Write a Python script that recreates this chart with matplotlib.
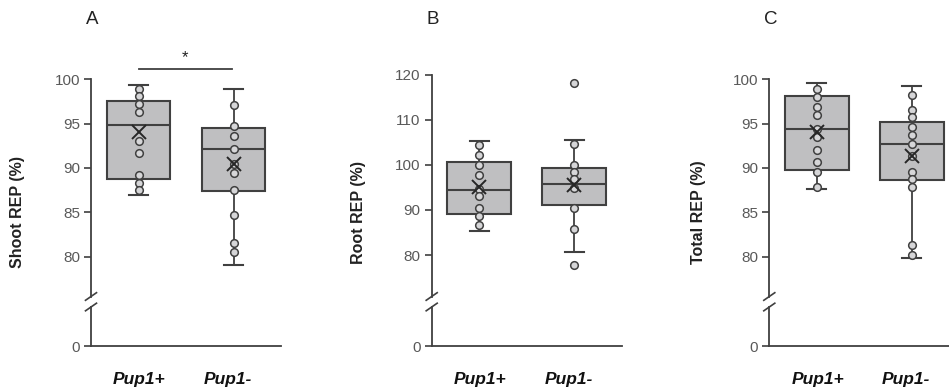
import matplotlib
matplotlib.use("Agg")
import matplotlib.pyplot as plt
from matplotlib.lines import Line2D

plt.rcParams["font.family"] = ["Liberation Sans", "DejaVu Sans"]

W, H = 949, 389

# ---- data ----
groups = ["Pup1+", "Pup1-"]

# box stats: [whisker low, Q1, median, Q3, whisker high, mean]
shoot_box = [[86.9, 88.7, 94.85, 97.6, 99.4, 94.0],
             [79.0, 87.45, 92.1, 94.5, 98.9, 90.45]]
shoot_pts = [[98.9, 98.1, 97.2, 96.3, 93.05, 91.7, 89.2, 88.35, 87.5],
             [97.1, 94.7, 93.65, 92.1, 90.45, 89.4, 87.5, 84.7, 81.5, 80.5]]

root_box = [[85.3, 89.0, 94.5, 100.7, 105.2, 95.0],
            [80.6, 91.05, 95.8, 99.2, 105.6, 95.5]]
root_pts = [[104.5, 102.2, 100.0, 97.8, 94.7, 93.1, 90.4, 88.6, 86.6],
            [118.2, 104.7, 100.0, 98.45, 96.8, 94.8, 90.4, 85.8, 77.7]]

total_box = [[87.65, 89.8, 94.4, 98.15, 99.6, 94.0],
             [79.8, 88.65, 92.75, 95.2, 99.3, 91.4]]
total_pts = [[98.9, 98.0, 96.9, 95.95, 94.4, 93.5, 92.0, 90.65, 89.5, 87.9],
             [98.2, 96.55, 95.7, 94.65, 93.7, 92.75, 91.4, 89.5, 88.7, 87.9, 81.3, 80.2]]

panels = [
    dict(letter="A", ylabel="Shoot REP (%)", box=shoot_box, pts=shoot_pts,
         yticks=[80, 85, 90, 95, 100], x0=91, top=79.3, ylim=(75.5, 100),
         lab_x=18, sig=True),
    dict(letter="B", ylabel="Root REP (%)", box=root_box, pts=root_pts,
         yticks=[80, 90, 100, 110, 120], x0=431.7, top=74.7, ylim=(70.8, 120),
         lab_x=359, sig=False),
    dict(letter="C", ylabel="Total REP (%)", box=total_box, pts=total_pts,
         yticks=[80, 85, 90, 95, 100], x0=769.3, top=79.3, ylim=(75.5, 100),
         lab_x=699, sig=False),
]

AX_W = 190          # px width of each x axis
UP_BOT = 296.5      # px, bottom of upper (broken) axis
LO_TOP = 307.0      # px, top of lower axis
LO_BOT = 346.0      # px, position of 0 / x axis

DARK = "#404040"
BOX_FILL = "#bfbfc1"
TICK_COL = "#595959"


def rect(x0, y0, x1, y1):
    return [x0 / W, (H - y1) / H, (x1 - x0) / W, (y1 - y0) / H]


fig = plt.figure(figsize=(W / 100, H / 100), dpi=100)

for p in panels:
    x0 = p["x0"]
    ax = fig.add_axes(rect(x0, p["top"], x0 + AX_W, UP_BOT))
    lo = fig.add_axes(rect(x0, LO_TOP, x0 + AX_W, LO_BOT))

    stats = []
    for name, b in zip(groups, p["box"]):
        stats.append(dict(label=name, whislo=b[0], q1=b[1], med=b[2],
                          q3=b[3], whishi=b[4], mean=b[5], fliers=[]))
    ax.bxp(stats, positions=[1, 2], widths=0.67, patch_artist=True,
           showmeans=False, showfliers=False,
           boxprops=dict(facecolor=BOX_FILL, edgecolor=DARK, linewidth=1.5),
           medianprops=dict(color=DARK, linewidth=1.5),
           whiskerprops=dict(color=DARK, linewidth=1.3),
           capprops=dict(color=DARK, linewidth=1.5), capwidths=0.2)
    for i, vals in enumerate(p["pts"]):
        ax.plot([i + 1] * len(vals), vals, "o", ms=5.5, mfc="#d6d6d8",
                mec=DARK, mew=1.1, clip_on=False, zorder=4)
        ax.plot(i + 1, p["box"][i][5], "x", ms=10, mec="#262626",
                mew=1.4, clip_on=False, zorder=5)

    ax.set_xlim(0.5, 2.5)
    ax.set_ylim(*p["ylim"])
    ax.set_yticks(p["yticks"])
    for s in ["top", "right", "bottom"]:
        ax.spines[s].set_visible(False)
    ax.spines["left"].set_color(DARK)
    ax.spines["left"].set_linewidth(1.3)
    ax.set_xticks([])
    ax.tick_params(axis="y", direction="out", length=5, width=1.2,
                   color=DARK, labelcolor=TICK_COL, labelsize=11, pad=3)
    ax.patch.set_visible(False)

    lo.set_xlim(0.5, 2.5)
    lo.set_ylim(0, 1)
    lo.set_yticks([0])
    lo.set_xticks([1.01, 1.94])
    lo.set_xticklabels(groups, fontsize=12.5, fontweight="bold",
                       fontstyle="italic", color="#111111")
    for s in ["top", "right"]:
        lo.spines[s].set_visible(False)
    for s in ["left", "bottom"]:
        lo.spines[s].set_color(DARK)
        lo.spines[s].set_linewidth(1.3)
    lo.tick_params(axis="y", direction="out", length=5, width=1.2,
                   color=DARK, labelcolor=TICK_COL, labelsize=11, pad=3)
    lo.tick_params(axis="x", length=0, pad=19)
    lo.patch.set_visible(False)

    # break marks on the y axis
    for yc in (UP_BOT, LO_TOP):
        fig.add_artist(Line2D([(x0 - 5.5) / W, (x0 + 5.5) / W],
                              [(H - yc - 3.8) / H, (H - yc + 3.8) / H],
                              color=DARK, lw=1.2))

    fig.text(p["lab_x"] / W, (H - 212) / H, p["ylabel"], rotation=90,
             ha="center", va="center", fontsize=11.5, fontweight="bold",
             color="#222222")
    fig.text((x0 + 1) / W, (H - 20) / H, p["letter"], ha="center",
             va="center", fontsize=13.5, color="#222222")

    if p["sig"]:
        fig.add_artist(Line2D([139 / W, 232 / W], [(H - 69) / H, (H - 69) / H],
                              color=DARK, lw=1.3))
        fig.text(185 / W, (H - 58) / H, "*", ha="center", va="center",
                 fontsize=12, color="#222222")

fig.savefig("out.png", dpi=100)
